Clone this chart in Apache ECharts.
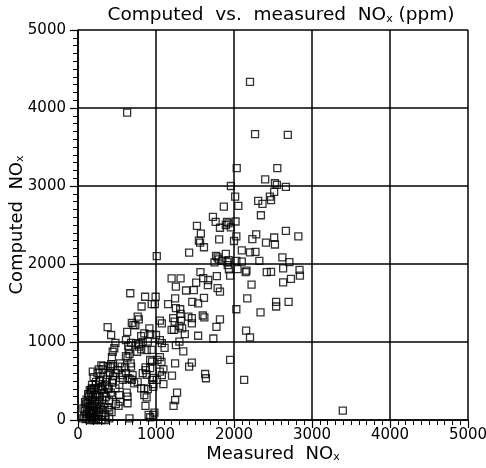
<!DOCTYPE html>
<html>
<head>
<meta charset="utf-8">
<script src="https://cdn.jsdelivr.net/npm/echarts@6/dist/echarts.min.js"></script>
<style>html,body{margin:0;padding:0;background:#fff}#c{width:486px;height:468px}</style>
</head>
<body>
<div id="c"></div>
<script>
// Axis ticks
const xTicks = [0, 1000, 2000, 3000, 4000, 5000];
const yTicks = [0, 1000, 2000, 3000, 4000, 5000];

// Upper / main band points
const measuredA = [630,2205,2270,2690,2035,2555,2400,2525,2550,2665,1960,2015,2515,2460,2475,2310,2365,1870,2055,2345,1730,1765,1910,1930,1895,1820,1960,2020,1525,1575,1550,1565,1615,1425,1810,2030,2000,2285,2235,2410,2515,2525,2665,2825,2100,2205,2275,1895,1770,1790,1805,1750,1010,1850,1915,1930,2030,2100,1920,1935,2045,2325,2620,2710,2160,2150,2420,2475,2630,2840,2845,2730,2630,1950,1780,1570,1605,1670,1665,1200,1315,1255,1515,1385,1485,1790,1820,2225,2170];
const computedA = [3940,4335,3665,3655,3230,3230,3085,3035,3015,2990,3000,2865,2925,2865,2820,2810,2770,2735,2745,2625,2605,2540,2540,2520,2500,2465,2470,2545,2490,2390,2300,2275,2215,2145,2315,2355,2295,2380,2320,2275,2340,2250,2425,2355,2175,2150,2155,2130,2105,2085,2060,2020,2100,2040,2025,2050,2040,2030,1985,1930,1935,2040,2085,2025,1915,1895,1895,1900,1945,1925,1850,1810,1765,1850,1845,1895,1820,1795,1730,1815,1815,1710,1760,1660,1665,1690,1645,1735,1560];

// Middle points
const measuredB = [860,995,985,945,815,1155,1245,1465,1540,1615,1255,1310,2540,2540,2700,2030,2340,1050,1075,1220,1240,1315,1320,1415,1460,1460,1600,1620,1820,1775,1200,1230,1300,1335,1370,1540,1735,2155,2205,1050,1075,1300,1350,1950,2130,1630,1640,3395];
const computedB = [1580,1580,1485,1485,1455,1485,1560,1515,1495,1565,1435,1420,1515,1455,1515,1420,1380,1275,1240,1305,1260,1360,1275,1325,1305,1240,1340,1315,1290,1195,1155,1155,1205,1175,1100,1080,1045,1145,1060,1025,985,1005,880,770,515,590,535,120];

// Lower-left points
const measuredC = [670,765,780,690,710,735,380,425,630,915,850,925,810,1110,1000,615,680,745,785,830,895,480,465,445,435,645,650,660,615,635,780,810,880,925,950,1020,1050,1095,1070,865,870,830,880,190,265,315,380,415,445,425,510,485,605,615,635,680,660,1205,1245,1425,1460,1255,1095,965,965,950,810,850,895,765,690,720,575,530,480,275,230,180,165,210,315,435,530,625,635,850,880,1270,865,635,1225,980,905,925,965,660,400,485,520,675,760,945,925,540,560,325,380,445,560,700,965,1050,1075,1010,1245,540,375,305,240];
const computedC = [1625,1325,1290,1245,1220,1215,1190,1090,1130,1175,1110,1100,1075,925,1090,1025,990,985,975,1000,1005,990,920,875,805,950,905,845,820,800,940,905,895,770,750,770,805,650,745,675,640,600,580,620,650,650,690,675,690,715,640,600,675,600,535,685,530,570,725,685,735,960,460,460,425,515,405,405,395,490,515,470,515,450,405,515,490,405,385,405,435,320,320,350,300,320,290,350,180,215,180,95,65,35,65,20,130,205,180,725,875,900,665,725,685,690,575,515,575,575,540,620,575,515,255,235,415,385,340];

// Dense cluster near the origin
const measuredD = [60,80,90,100,110,120,120,130,140,140,150,150,160,160,170,170,180,180,190,190,200,200,210,210,220,220,230,230,240,240,250,250,260,260,270,270,280,280,290,300,300,310,320,320,330,340,350,350,360,370,380,390,400,410,420,430,440,450,100,110,130,200,150,90,70,230,300,350,400,200,250,300,180,150];
const computedD = [20,50,120,10,80,160,30,220,100,300,40,180,250,120,60,350,200,20,290,130,80,400,180,30,250,320,120,450,60,200,300,150,380,10,230,100,500,300,170,60,400,260,130,550,340,200,450,60,300,520,160,400,250,600,350,100,480,560,200,260,330,0,0,230,150,0,0,0,20,550,600,700,450,380];

const measured = measuredA.concat(measuredB, measuredC, measuredD);
const computed = computedA.concat(computedB, computedC, computedD);
const points = measured.map((m, i) => [m, computed[i]]);

const FONT = 'DejaVu Sans';
const rich = {
  sub: { fontSize: 11, fontFamily: FONT, color: '#000', verticalAlign: 'bottom', lineHeight: 10 }
};
const chart = echarts.init(document.getElementById('c'), null, { renderer: 'canvas' });
const axisCommon = {
  min: 0, max: 5000, interval: 1000,
  axisLine: { show: true, onZero: false, lineStyle: { color: '#000', width: 1.5 } },
  axisTick: { show: true, inside: false, length: 8, lineStyle: { color: '#000', width: 1.2 } },
  splitLine: { show: true, lineStyle: { color: '#000', width: 1.5 } },
  nameLocation: 'middle',
  nameMoveOverlap: false,
  nameTextStyle: { fontFamily: FONT, fontSize: 18, color: '#000', rich: rich }
};
// secondary axes only carry the minor ticks (every 100)
const minorAxis = {
  min: 0, max: 5000, interval: 100,
  axisLine: { show: false },
  axisTick: { show: true, inside: false, length: 5, lineStyle: { color: '#000', width: 1 } },
  axisLabel: { show: false },
  splitLine: { show: false }
};
chart.setOption({
  animation: false,
  backgroundColor: '#fff',
  title: {
    text: 'Computed  vs.  measured  NO{sub|x} (ppm)',
    left: 276, top: 1, textAlign: 'center',
    textStyle: { fontFamily: FONT, fontSize: 18.5, fontWeight: 'normal', color: '#000', rich: rich }
  },
  grid: { left: 78, right: 18, top: 30, bottom: 48, containLabel: false, outerBoundsMode: 'none' },
  xAxis: [Object.assign({}, axisCommon, {
    type: 'value', position: 'bottom', name: 'Measured  NO{sub|x}', nameGap: 25,
    axisLabel: { fontFamily: FONT, fontSize: 15, color: '#000', margin: 8,
      formatter: v => xTicks.indexOf(v) >= 0 ? String(v) : '' }
  }), Object.assign({}, minorAxis, { type: 'value', position: 'bottom', offset: 0 })],
  yAxis: [Object.assign({}, axisCommon, {
    type: 'value', position: 'left', name: 'Computed  NO{sub|x}', nameGap: 52,
    axisLabel: { fontFamily: FONT, fontSize: 15, color: '#000', margin: 12,
      formatter: v => yTicks.indexOf(v) >= 0 ? String(v) : '' }
  }), Object.assign({}, minorAxis, { type: 'value', position: 'left', offset: 0 })],
  series: [{
    type: 'scatter',
    data: points,
    symbol: 'rect',
    symbolSize: 7,
    itemStyle: { color: 'rgba(255,255,255,0)', borderColor: '#000', borderWidth: 1.3 },
    emphasis: { disabled: true },
    clip: false
  }]
});
</script>
</body>
</html>
